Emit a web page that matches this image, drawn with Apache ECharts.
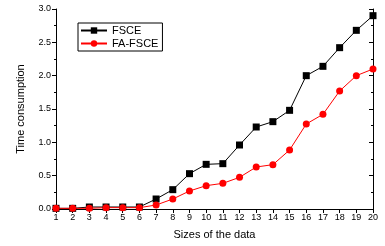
<!DOCTYPE html>
<html>
<head>
<meta charset="utf-8">
<script src="https://cdn.jsdelivr.net/npm/echarts@6/dist/echarts.min.js"></script>
<style>
html, body { margin: 0; padding: 0; background: #fff; }
#myChart { width: 385px; height: 246px; }
</style>
</head>
<body>
<div id="myChart"></div>
<script>
// data sizes 1..20
var sizes = [1, 2, 3, 4, 5, 6, 7, 8, 9, 10, 11, 12, 13, 14, 15, 16, 17, 18, 19, 20];
var fsce = [0.01, 0.01, 0.03, 0.03, 0.03, 0.03, 0.15, 0.29, 0.53, 0.67, 0.68, 0.96, 1.23, 1.31, 1.48, 2.0, 2.14, 2.42, 2.68, 2.9];
var faFsce = [0.01, 0.01, 0.01, 0.02, 0.02, 0.02, 0.06, 0.15, 0.27, 0.35, 0.385, 0.475, 0.63, 0.665, 0.885, 1.275, 1.42, 1.77, 2.0, 2.1];
var yTicks = [0, 0.5, 1.0, 1.5, 2.0, 2.5, 3.0];

function pairs(vals) {
  return sizes.map(function (s, i) { return [s, vals[i]]; });
}

var font = 'Liberation Sans, Arial, sans-serif';
var axisLine = { show: true, lineStyle: { color: '#000', width: 1 } };

var myChart = echarts.init(document.getElementById('myChart'));
myChart.setOption({
  animation: false,
  grid: { left: 56, right: 12, top: 9, bottom: 37 },
  legend: {
    left: 78, top: 23,
    orient: 'vertical',
    itemGap: 2,
    itemWidth: 26, itemHeight: 8,
    padding: [2, 4, 2, 2],
    borderColor: '#000', borderWidth: 1,
    textStyle: { fontFamily: font, fontSize: 11, color: '#000' },
    data: ['FSCE', 'FA-FSCE']
  },
  xAxis: [{
    type: 'value', min: 1, max: 20, interval: 1,
    name: 'Sizes of the data', nameLocation: 'middle', nameGap: 20,
    nameTextStyle: { fontFamily: font, fontSize: 11, color: '#000' },
    axisLine: axisLine,
    axisTick: { show: true, length: 4, lineStyle: { color: '#000' } },
    axisLabel: { fontFamily: font, fontSize: 9, color: '#000', margin: 4 },
    splitLine: { show: false }
  }, {
    type: 'value', min: 1, max: 20, interval: 1, position: 'top',
    axisLine: axisLine,
    axisTick: { show: true, inside: true, length: 4, lineStyle: { color: '#000' } },
    axisLabel: { show: false },
    splitLine: { show: false }
  }],
  yAxis: [{
    type: 'value', min: 0, max: 3, interval: 0.5,
    name: 'Time consumption', nameLocation: 'middle', nameGap: 30,
    nameTextStyle: { fontFamily: font, fontSize: 11, color: '#000' },
    axisLine: axisLine,
    axisTick: { show: true, length: 4, lineStyle: { color: '#000' } },
    minorTick: { show: true, splitNumber: 2, length: 2, lineStyle: { color: '#000' } },
    axisLabel: {
      fontFamily: font, fontSize: 9, color: '#000', margin: 5,
      formatter: function (v) { return v.toFixed(1); }
    },
    splitLine: { show: false }
  }, {
    type: 'value', min: 0, max: 3, interval: 0.5, position: 'right',
    axisLine: axisLine,
    axisTick: { show: true, inside: true, length: 4, lineStyle: { color: '#000' } },
    minorTick: { show: true, splitNumber: 2, length: 2, lineStyle: { color: '#000' } },
    axisLabel: { show: false },
    splitLine: { show: false }
  }],
  series: [{
    name: 'FSCE', type: 'line',
    symbol: 'rect', symbolSize: 7,
    itemStyle: { color: '#000' },
    lineStyle: { color: '#000', width: 1 },
    data: pairs(fsce)
  }, {
    name: 'FA-FSCE', type: 'line',
    symbol: 'circle', symbolSize: 7,
    itemStyle: { color: '#ff0000' },
    lineStyle: { color: '#ff0000', width: 1 },
    data: pairs(faFsce)
  }]
});
</script>
</body>
</html>
